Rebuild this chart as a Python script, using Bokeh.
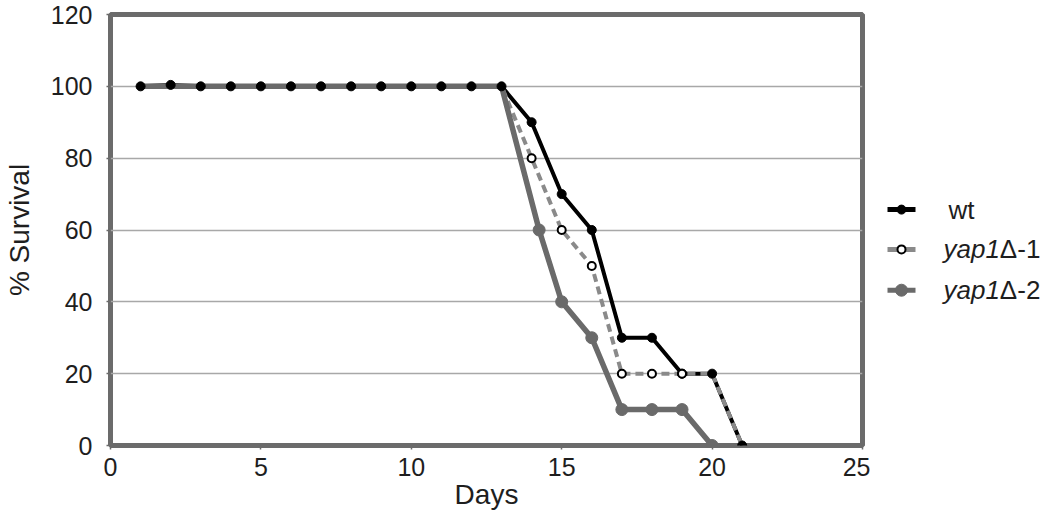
from bokeh.plotting import figure
from bokeh.models import Range1d, FixedTicker
from bokeh.layouts import row
from bokeh.core.properties import value
from bokeh.embed import file_html
from bokeh.resources import INLINE

# ---------------- data ----------------
days_wt = [1, 2, 3, 4, 5, 6, 7, 8, 9, 10, 11, 12, 13, 14, 15, 16, 17, 18, 19, 20, 21]
surv_wt = [100, 100.4, 100, 100, 100, 100, 100, 100, 100, 100, 100, 100, 100,
           90, 70, 60, 30, 30, 20, 20, 0]

days_y1 = [1, 2, 3, 4, 5, 6, 7, 8, 9, 10, 11, 12, 13, 14, 15, 16, 17, 18, 19, 20, 21]
surv_y1 = [100, 100, 100, 100, 100, 100, 100, 100, 100, 100, 100, 100, 100,
           80, 60, 50, 20, 20, 20, 20, 0]

days_y2 = [1, 2, 3, 4, 5, 6, 7, 8, 9, 10, 11, 12, 13, 14.25, 15, 16, 17, 18, 19, 20]
surv_y2 = [100, 100, 100, 100, 100, 100, 100, 100, 100, 100, 100, 100, 100,
           60, 40, 30, 10, 10, 10, 0]

x_ticks = [0, 5, 10, 15, 20, 25]
y_ticks = [0, 20, 40, 60, 80, 100, 120]

legend_italic = ["", "yap1", "yap1"]
legend_plain = ["wt", "\u0394-1", "\u0394-2"]

FONT = "Liberation Sans"
BORDER = "#6b6b6b"
GREY_DASH = "#8a8a8a"
GREY_SOLID = "#6a6a6a"
TEXT = "#1e1e1e"

H = 512
TOP = 14
BOTTOM_BORDER = 65   # frame bottom at H - 65 = 447

# ---------------- main chart ----------------
p = figure(width=870, height=H, x_range=Range1d(0, 25), y_range=Range1d(0, 120),
           output_backend="svg", toolbar_location=None,
           min_border_left=110, min_border_right=8, min_border_top=TOP,
           min_border_bottom=BOTTOM_BORDER)
p.background_fill_color = "white"
p.border_fill_color = "white"
p.outline_line_color = BORDER
p.outline_line_width = 5

p.xgrid.visible = False
p.ygrid.ticker = FixedTicker(ticks=y_ticks[1:-1])
p.ygrid.grid_line_color = "#a8a8a8"
p.ygrid.grid_line_width = 1.5

p.xaxis.ticker = FixedTicker(ticks=x_ticks)
p.yaxis.ticker = FixedTicker(ticks=y_ticks)
for ax in (p.xaxis[0], p.yaxis[0]):
    ax.axis_line_color = None
    ax.major_tick_line_color = BORDER
    ax.major_tick_line_width = 1.5
    ax.major_tick_out = 4
    ax.major_tick_in = 0
    ax.minor_tick_line_color = None
    ax.major_label_text_font = FONT
    ax.major_label_text_font_size = "25px"
    ax.major_label_text_color = TEXT
    ax.axis_label_text_font = FONT
    ax.axis_label_text_font_size = "28px"
    ax.axis_label_text_font_style = "normal"
    ax.axis_label_text_color = TEXT
p.xaxis.axis_label = "Days"
p.yaxis.axis_label = "% Survival"
p.xaxis.major_label_standoff = 8
p.xaxis.axis_label_standoff = 0
p.yaxis.major_label_standoff = 14
p.yaxis.axis_label_standoff = 13

# lines
p.line(days_wt, surv_wt, line_color="black", line_width=4)
p.line(days_y1, surv_y1, line_color=GREY_DASH, line_width=4, line_dash="8 5")
p.line(days_y2, surv_y2, line_color=GREY_SOLID, line_width=5.5)

# markers
m2 = [i for i, d in enumerate(days_y2) if d >= 14]
p.scatter([days_y2[i] for i in m2], [surv_y2[i] for i in m2], size=12,
          fill_color=GREY_SOLID, line_color=GREY_SOLID)
p.scatter(days_wt, surv_wt, size=9, fill_color="black", line_color="black")
m1 = [i for i, d in enumerate(days_y1) if 14 <= d <= 19]
p.scatter([days_y1[i] for i in m1], [surv_y1[i] for i in m1], size=8,
          fill_color="white", line_color="black", line_width=2)

# ---------------- legend panel ----------------
# its frame is aligned with the main frame (TOP .. H-BOTTOM_BORDER), so use page pixels
lg = figure(width=176, height=H, x_range=Range1d(0, 176),
            y_range=Range1d(H - BOTTOM_BORDER, TOP),
            output_backend="svg", toolbar_location=None,
            x_axis_location=None, y_axis_location=None, min_border=0,
            min_border_top=TOP, min_border_bottom=BOTTOM_BORDER)
lg.outline_line_color = None
lg.grid.visible = False
lg.background_fill_color = "white"
lg.border_fill_color = "white"

rows_y = [210, 250, 291]
line_cols = ["black", GREY_DASH, GREY_SOLID]
for k, yy in enumerate(rows_y):
    lg.line([17, 45], [yy, yy], line_color=line_cols[k], line_width=5)
lg.scatter([31], [rows_y[0]], size=9, fill_color="black", line_color="black")
lg.scatter([31], [rows_y[1]], size=8, fill_color="white", line_color="black", line_width=2)
lg.scatter([31], [rows_y[2]], size=12, fill_color=GREY_SOLID, line_color=GREY_SOLID)

FS = 26
for k, yy in enumerate(rows_y):
    it = legend_italic[k]
    x0 = 73
    if it:
        lg.text([x0], [yy], text=[it], text_font=value(FONT), text_font_size=f"{FS}px",
                text_font_style="italic", text_baseline="middle", text_align="left",
                text_color=TEXT)
        x0 = x0 + 2.168 * FS
    else:
        x0 = 78
    lg.text([x0], [yy], text=[legend_plain[k]], text_font=value(FONT), text_font_size=f"{FS}px",
            text_baseline="middle", text_align="left", text_color=TEXT)

layout = row(p, lg)
open("out.html", "w").write(file_html(layout, INLINE))
